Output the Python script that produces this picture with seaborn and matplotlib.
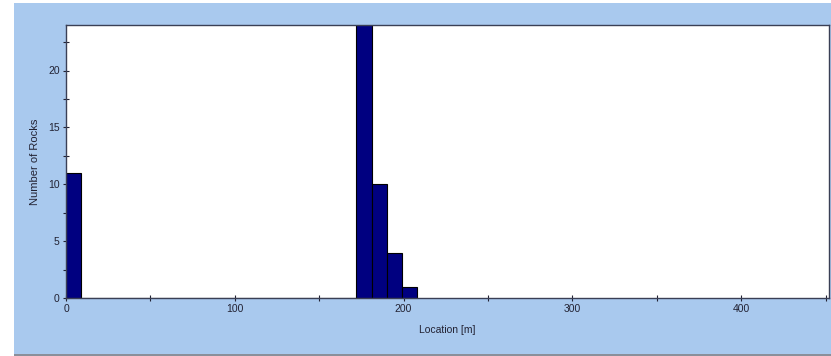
import matplotlib
matplotlib.use("Agg")
import matplotlib.pyplot as plt
import seaborn as sns
import numpy as np
import pandas as pd
from matplotlib.ticker import MultipleLocator
from matplotlib.patches import Rectangle

bin_edges = [0, 9, 172, 181, 190, 199, 208]
bin_centers = [4.5, 90.5, 176.5, 185.5, 194.5, 203.5]
counts = [11, 0, 30, 10, 4, 1]
x_label = "Location [m]"
y_label = "Number of Rocks"

sns.set_style("white")
plt.rcParams['font.family'] = ['Liberation Sans', 'DejaVu Sans']

fig = plt.figure(figsize=(8.31, 3.56), dpi=100)
fig.patch.set_facecolor("white")
fig.patches.append(Rectangle((14/831, 2/356), 1 - 14/831, 351/356,
                             transform=fig.transFigure, facecolor="#A9C9EE",
                             edgecolor="none", zorder=-10))
fig.patches.append(Rectangle((14/831, 0), 1 - 14/831, 2.5/356,
                             transform=fig.transFigure, facecolor="#8a8f9a",
                             edgecolor="none", zorder=-10))
ax = fig.add_axes([66/831, 58/356, 763/831, 273/356])
ax.set_zorder(1)
ax.set_facecolor("white")

df = pd.DataFrame({"loc": bin_centers, "n": counts})
sns.histplot(data=df, x="loc", weights="n", bins=bin_edges, ax=ax,
             color="#000080", edgecolor="black", linewidth=0.8, alpha=1)

ax.set_xlim(0, 452)
ax.set_ylim(0, 24)
ax.xaxis.set_major_locator(MultipleLocator(100))
ax.xaxis.set_minor_locator(MultipleLocator(50))
ax.yaxis.set_major_locator(MultipleLocator(5))
ax.yaxis.set_minor_locator(MultipleLocator(2.5))
ax.tick_params(which="both", direction="inout", length=5, width=0.8,
               color="#222233", labelsize=7.5, labelcolor="#222233",
               bottom=True, left=True, pad=2)
ax.set_xlabel(x_label, fontsize=7.5, color="#222233", labelpad=8)
ax.set_ylabel(y_label, fontsize=8, color="#222233", labelpad=6)
for s in ax.spines.values():
    s.set_color("#3a3f55")
    s.set_linewidth(1.0)

fig.savefig("out.png", dpi=100, facecolor=fig.get_facecolor())
